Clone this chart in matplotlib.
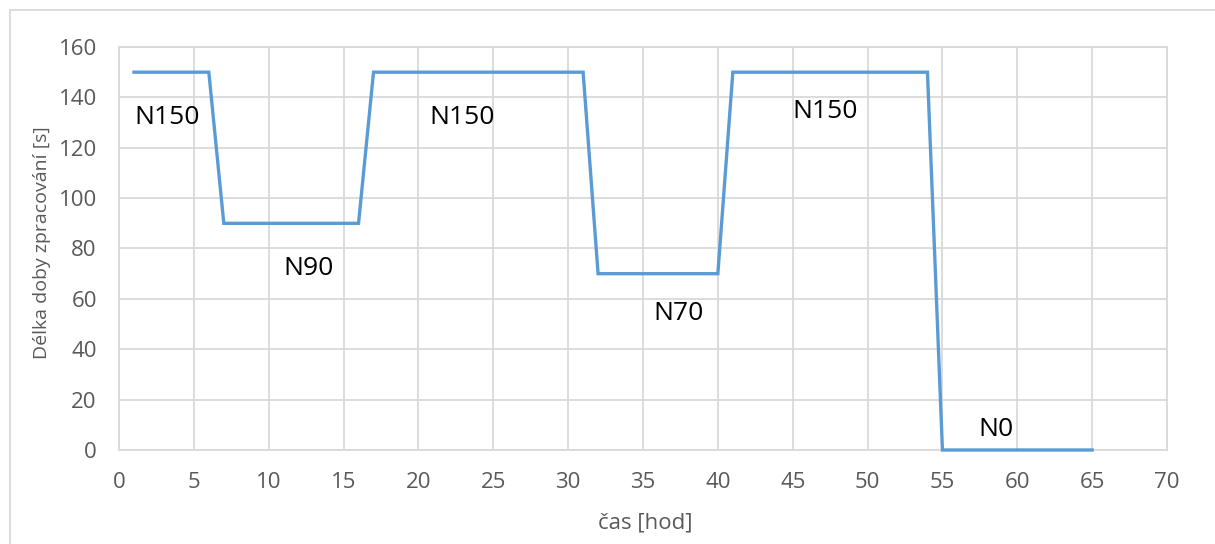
import matplotlib.pyplot as plt
from matplotlib.lines import Line2D

# data
hours = [1, 6, 7, 16, 17, 31, 32, 40, 41, 54, 55, 65]
duration = [150, 150, 90, 90, 150, 150, 70, 70, 150, 150, 0, 0]

label_text = ["N150", "N90", "N150", "N70", "N150", "N0"]
label_x = [1.0, 11.0, 20.7, 35.7, 45.0, 57.4]
label_y = [132, 72, 132, 54, 134.5, 8]

x_ticks = list(range(0, 75, 5))
y_ticks = list(range(0, 180, 20))

W, H = 1215, 544

plt.rcParams["font.family"] = ["Open Sans", "DejaVu Sans"]

fig = plt.figure(figsize=(W / 100, H / 100), dpi=100)
ax = fig.add_axes([119 / W, 1 - 450 / H, 1048 / W, 403 / H])

ax.plot(hours, duration, color="#5B9BD5", linewidth=2.4,
        solid_joinstyle="miter", clip_on=False, zorder=3)

for txt, x, y in zip(label_text, label_x, label_y):
    ax.text(x, y, txt, fontsize=19, color="black", ha="left", va="center")

ax.set_xlim(0, 70)
ax.set_ylim(0, 160)
ax.set_xticks(x_ticks)
ax.set_yticks(y_ticks)
ax.grid(True, color="#D9D9D9", linewidth=1.3)
ax.set_axisbelow(True)
ax.tick_params(length=0, labelsize=16, labelcolor="#595959")
ax.tick_params(axis="y", pad=16)
ax.tick_params(axis="x", pad=16)
for s in ax.spines.values():
    s.set_color("#D9D9D9")
    s.set_linewidth(1.3)

# axis titles placed like in the original
fig.text(645 / W, 1 - 523 / H, "čas [hod]", fontsize=16, color="#595959",
         ha="center", va="center")
fig.text(42 / W, 1 - 243 / H, "Délka doby zpracování [s]", fontsize=14,
         color="#595959", ha="center", va="center", rotation=90)

# outer chart frame (top and left visible)
fig.add_artist(Line2D([10 / W, 10 / W], [0, 1 - 10 / H], transform=fig.transFigure,
                      color="#D9D9D9", linewidth=1.3))
fig.add_artist(Line2D([10 / W, 1], [1 - 10 / H, 1 - 10 / H], transform=fig.transFigure,
                      color="#D9D9D9", linewidth=1.3))

fig.savefig("out.png", dpi=100)
